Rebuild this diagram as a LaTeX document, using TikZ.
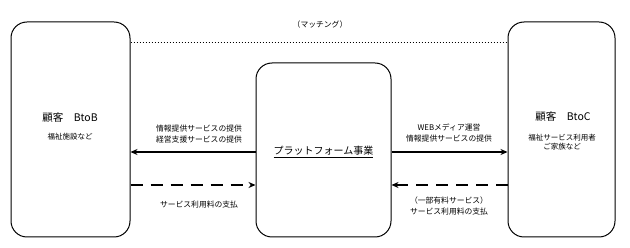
\documentclass[tikz,border=0pt]{standalone}
\usepackage{fontspec}
\setmainfont{Noto Sans CJK JP}
\usetikzlibrary{arrows.meta,calc}
\begin{document}
\begin{tikzpicture}[x=1pt,y=-1pt,
  box/.style={draw,line width=1pt,rounded corners=16pt,inner sep=0pt},
  title/.style={font=\fontsize{10.5}{12}\selectfont},
  sub/.style={font=\fontsize{7.5}{9.5}\selectfont,align=center},
  lbl/.style={font=\fontsize{7.8}{11}\selectfont,align=center},
  flow/.style={line width=2.4pt,-{Stealth[length=7pt,width=6pt]}},
  pay/.style={line width=2.4pt,dash pattern=on 12pt off 8pt,-{Stealth[length=7pt,width=6pt]}},
  match/.style={line width=0.4pt,dash pattern=on 1.5pt off 1.5pt}]
\useasboundingbox (0,0) rectangle (630,248);
\node[box,minimum width=119pt,minimum height=215pt] (bl) at (70.5,129.5) {};
\node[box,minimum width=135pt,minimum height=174pt] (pc) at (323.5,150) {};
\node[box,minimum width=107pt,minimum height=215pt] (br) at (561.5,129.5) {};
\node[title] (blt) at (70,118) {顧客　BtoB};
\node[sub] (bls) at (70,137) {福祉施設など};
\node[title] (brt) at (563,117) {顧客　BtoC};
\node[sub] (brs) at (562,142) {福祉サービス利用者\\ご家族など};
\node[font=\fontsize{10}{12}\selectfont] (pct) at (323.5,152) {\underline{プラットフォーム事業}};
\node[lbl] (mt) at (320,25) {（マッチング）};
\coordinate (ml) at (320,42);
\draw[match] (bl.east |- ml) -- (br.west |- ml);
\coordinate (pl) at (320,185);
\draw[flow] (pc.west |- pct) -- (bl.east |- pct);
\draw[flow] (pc.east |- pct) -- (br.west |- pct);
\draw[pay] (bl.east |- pl) -- (pc.west |- pl);
\draw[pay] (br.west |- pl) -- (pc.east |- pl);
\node[lbl] (l1) at (199,134) {情報提供サービスの提供\\経営支援サービスの提供};
\node[lbl] (l2) at (449,133) {WEBメディア運営\\情報提供サービスの提供};
\node[lbl] (l3) at (199,205) {サービス利用料の支払};
\node[lbl] (l4) at (449,206) {（一部有料サービス）\\サービス利用料の支払};
\end{tikzpicture}
\end{document}
